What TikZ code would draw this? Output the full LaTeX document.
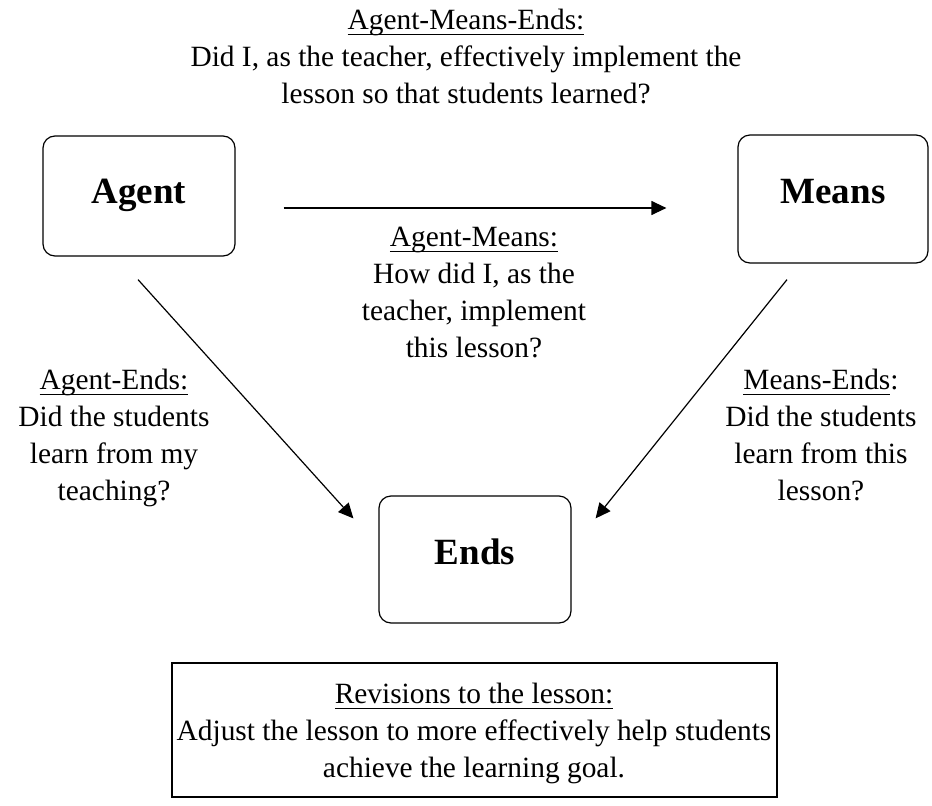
\documentclass[tikz,border=0pt]{standalone}
\usepackage{fontspec}
\setmainfont{Liberation Serif}
\usetikzlibrary{arrows.meta,calc}
\newcommand{\myul}[1]{\leavevmode\setbox0\hbox{#1}\rlap{\rule[-5.8pt]{\wd0}{1.3pt}}\box0}
\tikzset{
  box/.style={draw, line width=1.2pt, rounded corners=12pt, inner sep=0pt,
    font=\bfseries\fontsize{37}{44}\selectfont, anchor=base},
  txt/.style={align=center, font=\fontsize{29.4}{36.8}\selectfont, inner sep=0pt, anchor=base},
  arr/.style={line width=1.2pt, -{Triangle[length=15pt,width=14pt]}},
  plainbox/.style={draw, line width=1.2pt, inner sep=0pt}
}
\begin{document}
\begin{tikzpicture}[x=1pt,y=-1pt]
\useasboundingbox (0,0) rectangle (932,806);
% boxes
\node[box, minimum width=192pt, text height=67pt, text depth=53pt] (agent) at (139,203) {Agent};
\node[box, minimum width=190pt, text height=68pt, text depth=60pt] (means) at (833,203) {Means};
\node[box, minimum width=192pt, text height=68pt, text depth=59pt] (ends) at (475,564) {Ends};
% texts (anchor base = baseline of last line)
\node[txt] (ame) at (466,103) {\myul{Agent-Means-Ends:}\\Did I, as the teacher, effectively implement the\\lesson so that students learned?};
\node[txt] (am) at (474,357) {\myul{Agent-Means:}\\How did I, as the\\teacher, implement\\this lesson?};
\node[txt] (ae) at (114,500) {\myul{Agent-Ends:}\\Did the students\\learn from my\\teaching?};
\node[txt] (me) at (821,500) {\myul{Means-Ends}:\\Did the students\\learn from this\\lesson?};
% revisions
\node[plainbox, minimum width=605pt, minimum height=134pt] (revbox) at (474.5,730) {};
\node[txt] (rev) at (474,777) {\myul{Revisions to the lesson:}\\Adjust the lesson to more effectively help students\\achieve the learning goal.};
% arrows
\draw[arr] ([shift={(48pt,-12pt)}]agent.east) -- ([shift={(-71pt,-9pt)}]means.west);
\draw[arr] ([shift={(-1pt,-23pt)}]agent.south) -- ([shift={(-25pt,-23pt)}]ends.north west);
\draw[arr] ([shift={(-46pt,-16pt)}]means.south) -- ([shift={(24pt,-23pt)}]ends.north east);
\end{tikzpicture}
\end{document}
